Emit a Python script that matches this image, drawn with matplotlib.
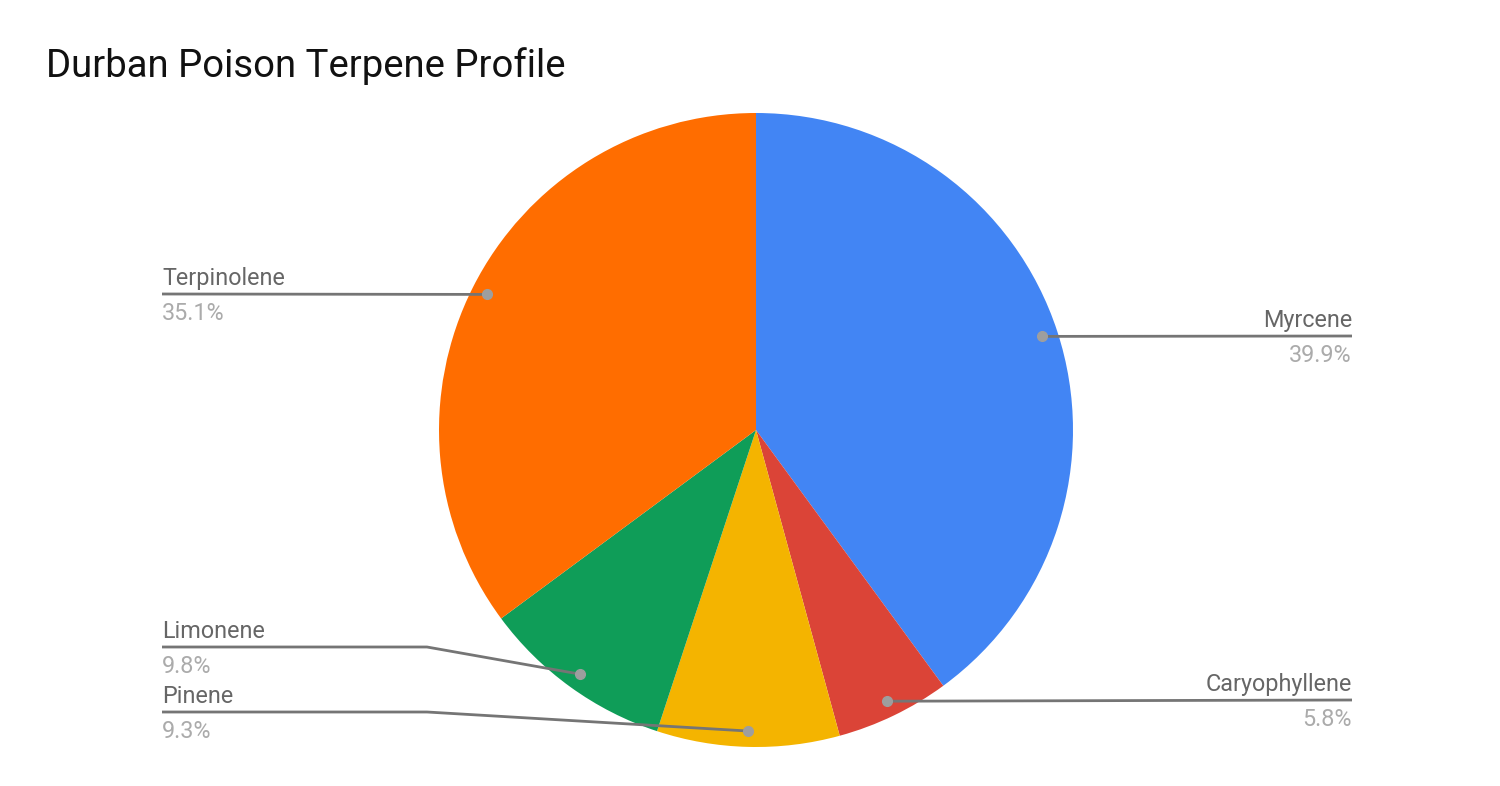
import numpy as np
import matplotlib
matplotlib.use("Agg")
import matplotlib.pyplot as plt

# terpene shares, clockwise from 12 o'clock
terpenes = ["Myrcene", "Caryophyllene", "Pinene", "Limonene", "Terpinolene"]
shares = [39.9, 5.8, 9.3, 9.8, 35.1]
colours = ["#4285F4", "#DB4437", "#F4B400", "#0F9D58", "#FF6D00"]

W, H = 1500, 786
cx, cy, R = 756, H - 430, 317

fig = plt.figure(figsize=(15, 7.86), dpi=100)
ax = fig.add_axes([0, 0, 1, 1])

wedges, _ = ax.pie(shares, colors=colours, startangle=90, counterclock=False,
                   center=(cx, cy), radius=R, frame=True,
                   wedgeprops=dict(linewidth=0))
ax.set_xlim(0, W)
ax.set_ylim(0, H)
ax.set_aspect("equal")
ax.axis("off")

# label placement: (side, line y from top, elbow x or None)
layout = {
    "Myrcene": ("right", 336, None),
    "Caryophyllene": ("right", 700, None),
    "Pinene": ("left", 712, 427),
    "Limonene": ("left", 647, 427),
    "Terpinolene": ("left", 294, None),
}

for w, name, val in zip(wedges, terpenes, shares):
    ang = np.deg2rad((w.theta1 + w.theta2) / 2)
    px = cx + 0.95 * R * np.cos(ang)
    py = cy + 0.95 * R * np.sin(ang)
    side, ly, elbow = layout[name]
    ly = H - ly
    if side == "left":
        xs = [162] + ([elbow] if elbow else []) + [px]
        ys = [ly] + ([ly] if elbow else []) + [py]
        tx, ha = 162, "left"
    else:
        xs = [px, 1352]
        ys = [py, ly]
        tx, ha = 1352, "right"
    ax.plot(xs, ys, color="#757575", lw=2, solid_capstyle="butt", zorder=3)
    ax.plot(px, py, "o", color="#9E9E9E", ms=7, zorder=4)
    ax.text(tx, ly + 9, name, ha=ha, va="baseline", fontsize=16.8,
            family="Roboto", color="#666666")
    ax.text(tx, ly - 26, f"{val}%", ha=ha, va="baseline", fontsize=16.8,
            family="Roboto", color="#ABABAB")

ax.text(46, H - 77, "Durban Poison Terpene Profile", ha="left", va="baseline",
        fontsize=27.5, family="Roboto", color="#111111")

fig.savefig("out.png", dpi=100, facecolor="white")
